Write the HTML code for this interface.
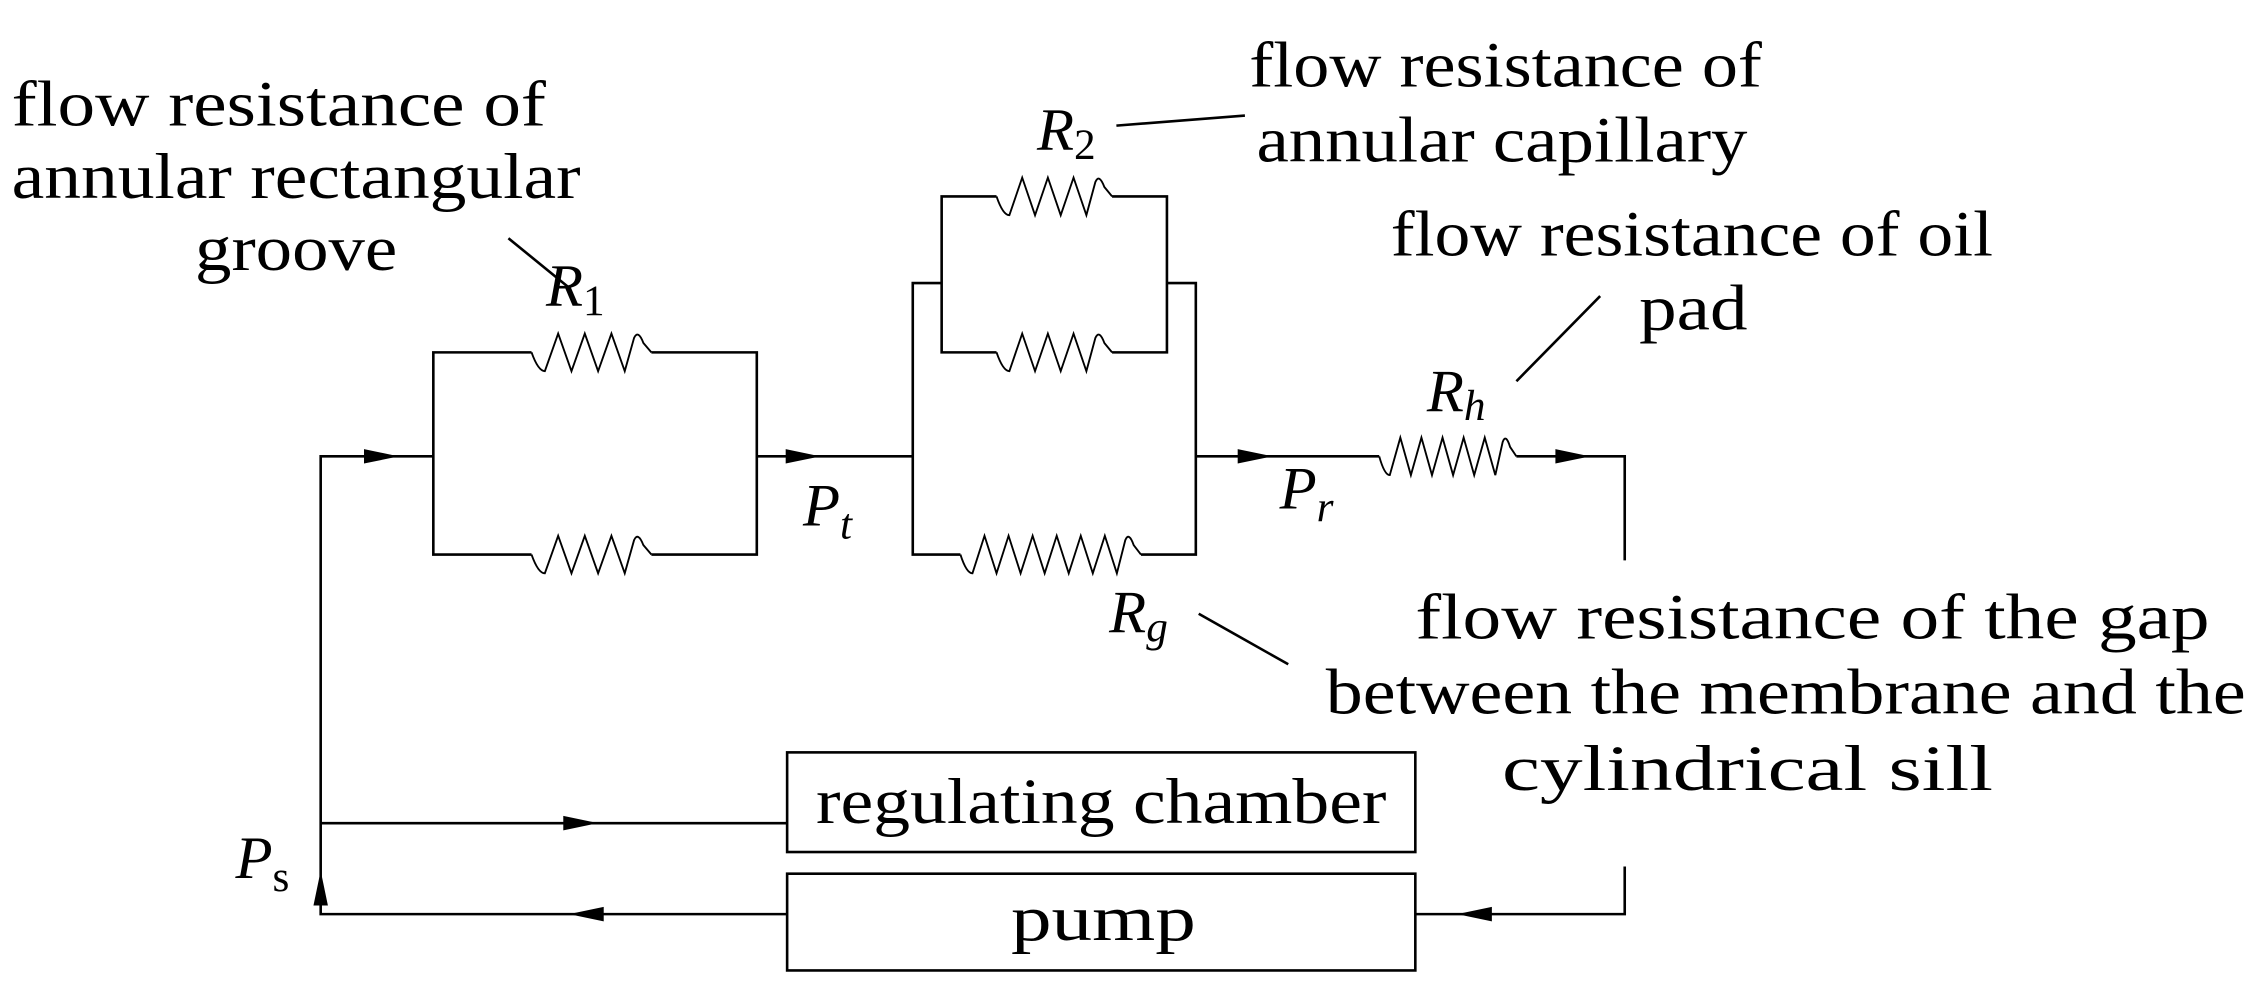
<!DOCTYPE html>
<html><head><meta charset="utf-8"><style>
html,body{margin:0;padding:0;background:#fff;}
svg{display:block}
text{font-family:"Liberation Serif",serif;fill:#000;}
.t{font-size:45px;}
.i{font-size:42px;font-style:italic;}
.s{font-size:30px;}
</style></head><body>
<svg id="s" width="2253" height="982" viewBox="0 0 1560 680" xmlns="http://www.w3.org/2000/svg">
<g id="g" fill="none" stroke="#000" stroke-width="1.8">
<polyline points="300,316 222,316 222,633 545,633"/>
<line x1="222" y1="570" x2="545" y2="570"/>
<polyline points="368,244 300,244 300,384 368,384"/>
<polyline points="451,244 524,244 524,384 451,384"/>
<line x1="524" y1="316" x2="632" y2="316"/>
<polyline points="652,196 632,196 632,384 665,384"/>
<polyline points="808,196 828,196 828,384 790,384"/>
<polyline points="690,136 652,136 652,244 690,244"/>
<polyline points="770,136 808,136 808,244 770,244"/>
<line x1="828" y1="316" x2="955" y2="316"/>
<polyline points="1050,316 1125,316 1125,388"/>
<polyline points="1125,600 1125,633 980,633"/>
<rect x="545" y="521" width="435" height="69"/>
<rect x="545" y="605" width="435" height="67"/>
<line x1="352" y1="165" x2="395" y2="200"/>
<line x1="773" y1="87" x2="862" y2="80"/>
<line x1="1050" y1="264" x2="1108" y2="205"/>
<line x1="830" y1="425" x2="892" y2="460"/>
</g>
<g fill="#000">
<polygon points="252,311 276,316 252,321"/>
<polygon points="544,311 568,316 544,321"/>
<polygon points="857,311 881,316 857,321"/>
<polygon points="1077,311 1101,316 1077,321"/>
<polygon points="390,565 414,570 390,575"/>
<polygon points="418,628 394,633 418,638"/>
<polygon points="1033,628 1009,633 1033,638"/>
<polygon points="217,627 222,603 227,627"/>
</g>
<text class="t" x="8" y="87" textLength="370" lengthAdjust="spacingAndGlyphs">flow resistance of</text>
<text class="t" x="8" y="137" textLength="394" lengthAdjust="spacingAndGlyphs">annular rectangular</text>
<text class="t" x="135" y="187" textLength="140" lengthAdjust="spacingAndGlyphs">groove</text>
<text class="t" x="865" y="60" textLength="355" lengthAdjust="spacingAndGlyphs">flow resistance of</text>
<text class="t" x="870" y="112" textLength="340" lengthAdjust="spacingAndGlyphs">annular capillary</text>
<text class="t" x="963" y="177" textLength="417" lengthAdjust="spacingAndGlyphs">flow resistance of oil</text>
<text class="t" x="1135" y="228" textLength="75" lengthAdjust="spacingAndGlyphs">pad</text>
<text class="t" x="980" y="442" textLength="550" lengthAdjust="spacingAndGlyphs">flow resistance of the gap</text>
<text class="t" x="918" y="494" textLength="637" lengthAdjust="spacingAndGlyphs">between the membrane and the</text>
<text class="t" x="1040" y="547" textLength="340" lengthAdjust="spacingAndGlyphs">cylindrical sill</text>
<text class="t" x="565" y="570" textLength="395" lengthAdjust="spacingAndGlyphs">regulating chamber</text>
<text class="t" x="700" y="651" textLength="128" lengthAdjust="spacingAndGlyphs">pump</text>
<text class="i" x="378" y="212">R<tspan class="s" dy="6" font-style="normal">1</tspan></text>
<text class="i" x="718" y="104">R<tspan class="s" dy="6" font-style="normal">2</tspan></text>
<text class="i" x="988" y="285">R<tspan class="s" dy="6">h</tspan></text>
<text class="i" x="768" y="438">R<tspan class="s" dy="6">g</tspan></text>
<text class="i" x="556" y="364">P<tspan class="s" dy="9">t</tspan></text>
<text class="i" x="886" y="352">P<tspan class="s" dy="9">r</tspan></text>
<text class="i" x="163" y="608">P<tspan class="s" dy="9" font-style="normal">s</tspan></text>
</svg>
<script>
(function(){
var g=document.getElementById('g');
function res(x0,x1,y,n){
 var a=13,s=(x1-x0)/(2*n+1);
 var d='M'+x0+','+y+' Q'+(x0+s*0.5)+','+(y+a)+' '+(x0+s)+','+(y+a);
 for(var i=0;i<n-1;i++){
  d+=' L'+(x0+(2*i+2)*s)+','+(y-a)+' L'+(x0+(2*i+3)*s)+','+(y+a);
 }
 var xt=x0+2*n*s;
 d+=' L'+(xt-s*0.3)+','+(y-a+3)+' Q'+xt+','+(y-a-3)+' '+(xt+s*0.4)+','+(y-a/2)+' L'+x1+','+y;
 var p=document.createElementNS('http://www.w3.org/2000/svg','path');
 p.setAttribute('d',d);p.setAttribute('stroke-width','1.3');
 g.appendChild(p);
}
res(368,451,244,4);res(368,451,384,4);
res(690,770,136,4);res(690,770,244,4);
res(665,790,384,7);res(955,1050,316,6);
})();
</script>
</body></html>
